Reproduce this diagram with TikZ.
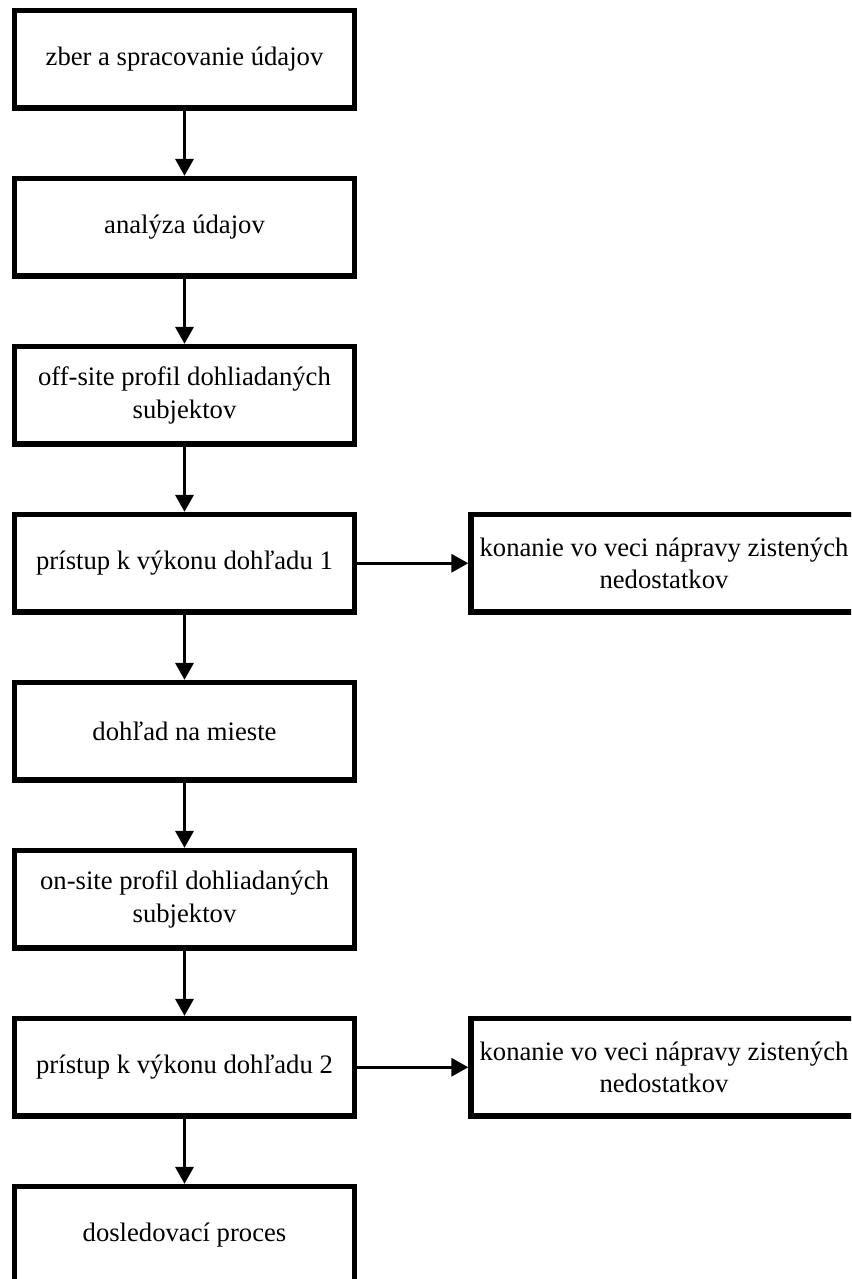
\documentclass[tikz,border=0pt]{standalone}
\usepackage{fontspec}
\setmainfont{Liberation Serif}
\usetikzlibrary{arrows.meta}
\begin{document}
\begin{tikzpicture}[x=0.75pt,y=-0.75pt,
  box/.style={draw, line width=4pt, rectangle, minimum width=255pt, minimum height=73.1pt,
    align=center, font=\fontsize{20}{24.5}\selectfont, inner sep=0pt},
  widebox/.style={box, minimum width=289.5pt},
  arr/.style={line width=2.5pt, -{Triangle[length=12.75pt,width=13.5pt]}}]
\useasboundingbox (0,0) rectangle (851,1279);
\clip (0,0) rectangle (851,1279);
\node[box] (b1) at (184.5,59.25) {zber a spracovanie údajov};
\node[box] (b2) at (184.5,227.25) {analýza údajov};
\node[box] (b3) at (184.5,395.25) {off-site profil dohliadaných\\subjektov};
\node[box] (b4) at (184.5,563.25) {prístup k výkonu dohľadu 1};
\node[box] (b5) at (184.5,731.25) {dohľad na mieste};
\node[box] (b6) at (184.5,899.25) {on-site profil dohliadaných\\subjektov};
\node[box] (b7) at (184.5,1067.25) {prístup k výkonu dohľadu 2};
\node[box] (b8) at (184.5,1235.25) {dosledovací proces};
\node[widebox] (r1) at (664,563.25) {konanie vo veci nápravy zistených\\nedostatkov};
\node[widebox] (r2) at (664,1067.25) {konanie vo veci nápravy zistených\\nedostatkov};
\draw[arr] (b1) -- (b2);
\draw[arr] (b2) -- (b3);
\draw[arr] (b3) -- (b4);
\draw[arr] (b4) -- (b5);
\draw[arr] (b5) -- (b6);
\draw[arr] (b6) -- (b7);
\draw[arr] (b7) -- (b8);
\draw[arr] (b4) -- (r1);
\draw[arr] (b7) -- (r2);
\end{tikzpicture}
\end{document}
